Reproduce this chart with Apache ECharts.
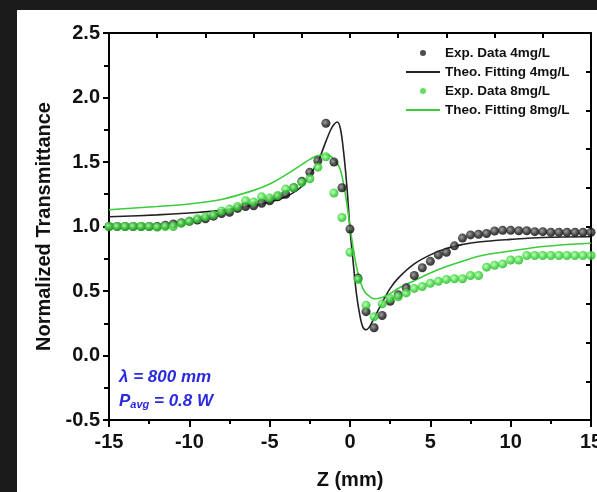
<!DOCTYPE html>
<html><head><meta charset="utf-8">
<script src="https://cdn.jsdelivr.net/npm/echarts@6/dist/echarts.min.js"></script>
<style>html,body{margin:0;padding:0;background:#1b1b1b;}#c{width:597px;height:492px;}</style>
</head><body><div id="c"></div>
<script>
// Z positions (mm) of experimental points
const zExp = [-15,-14.5,-14,-13.5,-13,-12.5,-12,-11.5,-11,-10.5,-10,-9.5,-9,-8.5,-8,-7.5,-7,-6.5,-6,-5.5,-5,-4.5,-4,-3.5,-3,-2.5,-2,-1.5,-1,-0.5,0,0.5,1,1.5,2,2.5,3,3.5,4,4.5,5,5.5,6,6.5,7,7.5,8,8.5,9,9.5,10,10.5,11,11.5,12,12.5,13,13.5,14,14.5,15];
// Exp. Data 4mg/L
const exp4 = [1.00,1.00,1.00,1.00,1.00,1.00,1.00,1.01,1.02,1.03,1.04,1.05,1.06,1.08,1.10,1.11,1.14,1.155,1.16,1.18,1.20,1.23,1.25,1.30,1.35,1.42,1.51,1.80,1.50,1.30,0.98,0.60,0.34,0.215,0.31,0.42,0.47,0.525,0.62,0.68,0.73,0.78,0.80,0.85,0.91,0.935,0.94,0.946,0.965,0.97,0.97,0.967,0.967,0.96,0.96,0.955,0.955,0.955,0.955,0.955,0.955];
// Exp. Data 8mg/L
const exp8 = [1.00,1.00,1.00,1.00,1.00,1.00,0.995,1.00,1.00,1.025,1.04,1.06,1.075,1.09,1.12,1.135,1.155,1.20,1.19,1.23,1.22,1.24,1.29,1.30,1.34,1.37,1.46,1.54,1.26,1.07,0.80,0.59,0.39,0.30,0.40,0.44,0.455,0.485,0.52,0.535,0.56,0.575,0.59,0.595,0.595,0.62,0.62,0.685,0.70,0.71,0.74,0.74,0.775,0.775,0.775,0.775,0.775,0.775,0.775,0.775,0.775];
// Theoretical fitting curves
const zFit = [-15,-12,-10,-8,-6,-5,-4,-3,-2.5,-2,-1.5,-1.2,-1,-0.8,-0.6,-0.4,-0.2,0,0.2,0.4,0.6,0.8,1,1.2,1.5,2,2.5,3,4,5,6,7,8,10,12,15];
const fit4 = [1.075,1.09,1.105,1.125,1.165,1.19,1.23,1.31,1.40,1.50,1.66,1.75,1.79,1.81,1.76,1.58,1.32,0.98,0.72,0.48,0.32,0.22,0.20,0.22,0.29,0.41,0.52,0.60,0.71,0.78,0.83,0.86,0.88,0.90,0.915,0.92];
const fit8 = [1.13,1.155,1.175,1.21,1.28,1.33,1.40,1.48,1.52,1.55,1.555,1.545,1.52,1.49,1.44,1.33,1.18,1.00,0.83,0.69,0.59,0.52,0.48,0.46,0.44,0.45,0.48,0.52,0.58,0.64,0.69,0.73,0.77,0.81,0.845,0.87];
const xTicks = {min:-15, max:15, step:5};
const yTicks = {min:-0.5, max:2.5, step:0.5};
const names = ['Exp. Data 4mg/L','Theo. Fitting 4mg/L','Exp. Data 8mg/L','Theo. Fitting 8mg/L'];

const pair = (xs, ys) => xs.map((x,i)=>[x, ys[i]]);
const font = '"Liberation Sans", Arial, sans-serif';
const blackDot = {type:'radial',x:0.4,y:0.4,r:0.6,colorStops:[{offset:0,color:'#8a8a8a'},{offset:0.6,color:'#222'},{offset:1,color:'#000'}]};
const greenDot = {type:'radial',x:0.4,y:0.4,r:0.6,colorStops:[{offset:0,color:'#b8ffb0'},{offset:0.6,color:'#3ad83a'},{offset:1,color:'#1fb51f'}]};
const blue = '#2a2ae0';

const chart = echarts.init(document.getElementById('c'), null, {renderer:'canvas'});
chart.setOption({
  backgroundColor:'#1b1b1b',
  animation:false,
  graphic:[
    {type:'rect', z:-10, shape:{x:17,y:10,width:580,height:482}, style:{fill:'#ffffff'}},
    {type:'text', left:119, top:369, z:100, style:{text:'λ = 800 mm', font:'italic bold 17px '+font, fill:blue}},
    {type:'text', left:119, top:393, z:100, style:{
      text:'{p|P}{s|avg}{p| = 0.8 W}', fill:blue,
      rich:{p:{fontFamily:font, fontStyle:'italic', fontWeight:'bold', fontSize:17, fill:blue, verticalAlign:'bottom'},
            s:{fontFamily:font, fontStyle:'italic', fontWeight:'bold', fontSize:11, fill:blue, padding:[7,0,0,0], verticalAlign:'bottom'}}}}
  ],
  grid:{left:109, right:6, top:33, bottom:72, containLabel:false, outerBoundsMode:'none'},
  legend:{
    orient:'vertical', left:400, top:41, itemWidth:34, itemHeight:6, itemGap:5,
    textStyle:{fontFamily:font, fontWeight:'bold', fontSize:13.5, color:'#111', lineHeight:14},
    data:[
      {name:names[0], icon:'circle', itemStyle:{color:'#222'}},
      {name:names[1], itemStyle:{opacity:0}},
      {name:names[2], icon:'circle', itemStyle:{color:'#3ad83a'}},
      {name:names[3], itemStyle:{opacity:0}}
    ]
  },
  xAxis:[
    {type:'value', position:'bottom', min:xTicks.min, max:xTicks.max, interval:xTicks.step,
     name:'Z (mm)', nameLocation:'middle', nameGap:50,
     nameTextStyle:{fontFamily:font, fontWeight:'bold', fontSize:20, color:'#111'},
     axisLine:{show:true, onZero:false, lineStyle:{color:'#000', width:2}},
     axisTick:{show:true, inside:false, length:7, lineStyle:{color:'#000', width:2}},
     minorTick:{show:true, splitNumber:2, length:4, lineStyle:{color:'#000', width:2}},
     axisLabel:{fontFamily:font, fontWeight:'bold', fontSize:20, color:'#111', margin:12},
     splitLine:{show:false}},
    {type:'value', position:'top', min:0, max:10, interval:1,
     axisLine:{show:true, onZero:false, lineStyle:{color:'#000', width:2}},
     axisTick:{show:true, inside:true, length:5, lineStyle:{color:'#000', width:2}},
     axisLabel:{show:false}, splitLine:{show:false}}
  ],
  yAxis:[
    {type:'value', position:'left', min:yTicks.min, max:yTicks.max, interval:yTicks.step,
     name:'Normalized Transmittance', nameLocation:'middle', nameGap:53,
     nameTextStyle:{fontFamily:font, fontWeight:'bold', fontSize:20, color:'#111'},
     axisLine:{show:true, onZero:false, lineStyle:{color:'#000', width:2}},
     axisTick:{show:true, inside:false, length:6, lineStyle:{color:'#000', width:2}},
     minorTick:{show:true, splitNumber:2, length:5, lineStyle:{color:'#000', width:2}},
     axisLabel:{fontFamily:font, fontWeight:'bold', fontSize:20, color:'#111', margin:9,
       formatter:v=>v.toFixed(1)},
     splitLine:{show:false}},
    {type:'value', position:'right', min:0, max:10, interval:1,
     axisLine:{show:true, onZero:false, lineStyle:{color:'#000', width:2}},
     axisTick:{show:true, inside:true, length:5, lineStyle:{color:'#000', width:2}},
     axisLabel:{show:false}, splitLine:{show:false}}
  ],
  series:[
    {name:names[1], type:'line', xAxisIndex:0, yAxisIndex:0, data:pair(zFit,fit4), showSymbol:false, symbol:'none',
     smooth:0.35, z:2, lineStyle:{color:'#222', width:1.6}, itemStyle:{color:'#222'}},
    {name:names[3], type:'line', xAxisIndex:0, yAxisIndex:0, data:pair(zFit,fit8), showSymbol:false, symbol:'none',
     smooth:0.35, z:2, lineStyle:{color:'#3ccc3c', width:1.6}, itemStyle:{color:'#3ccc3c'}},
    {name:names[0], type:'scatter', xAxisIndex:0, yAxisIndex:0, data:pair(zExp,exp4), symbolSize:9, z:3,
     itemStyle:{color:blackDot}},
    {name:names[2], type:'scatter', xAxisIndex:0, yAxisIndex:0, data:pair(zExp,exp8), symbolSize:9, z:4,
     itemStyle:{color:greenDot}}
  ]
});
</script></body></html>
